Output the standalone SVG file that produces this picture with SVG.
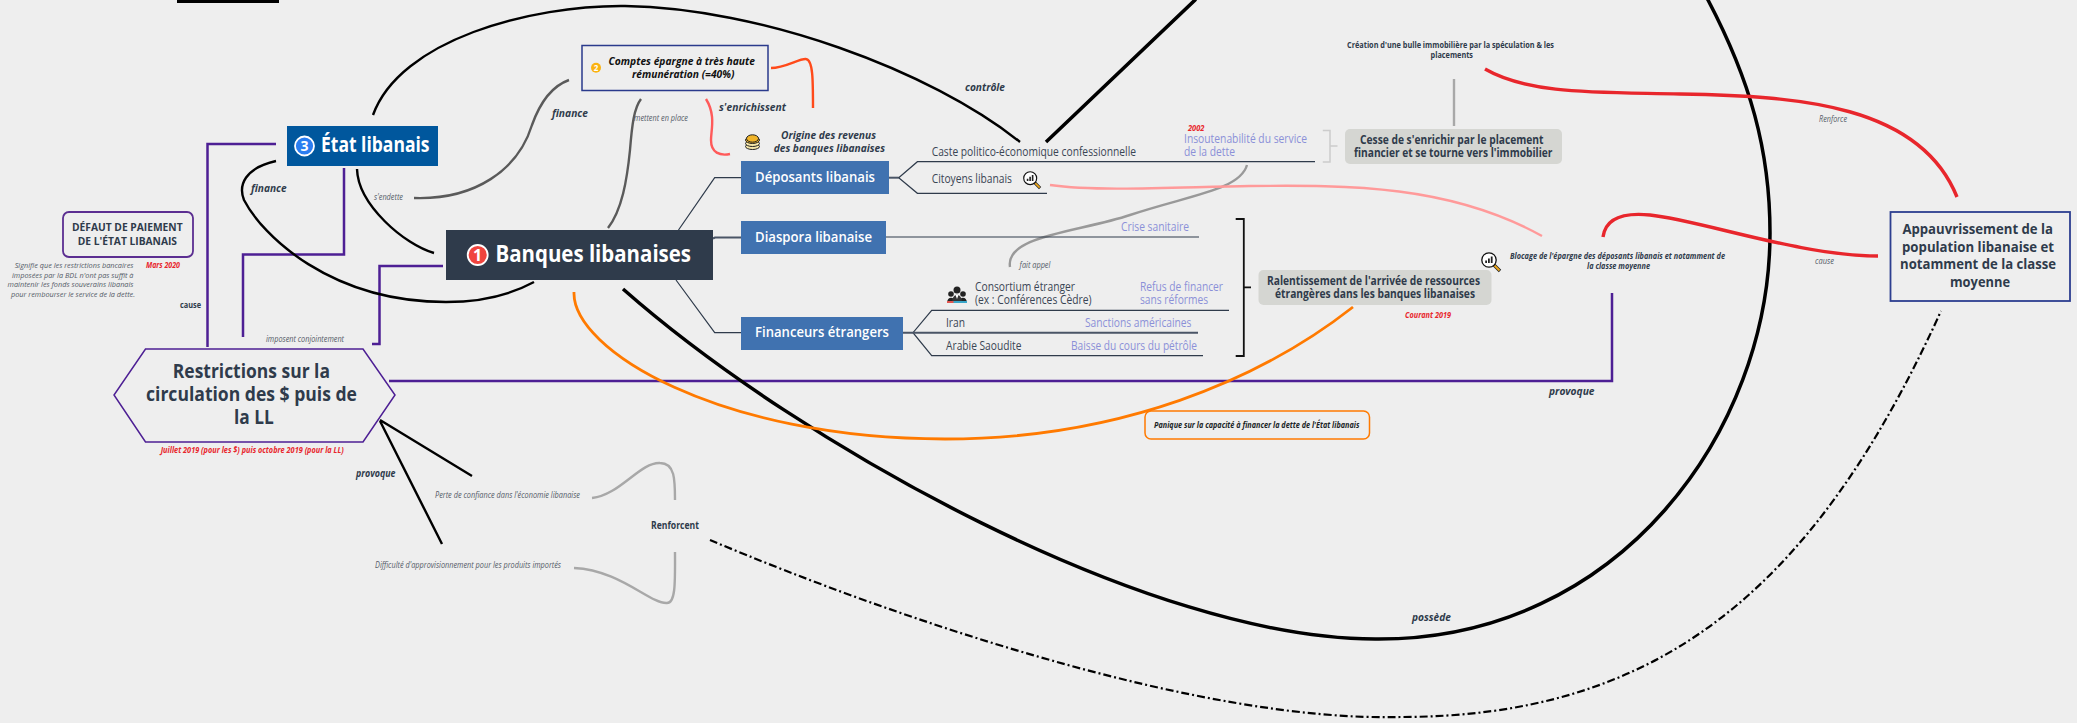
<svg xmlns="http://www.w3.org/2000/svg" width="2077" height="723" viewBox="0 0 2077 723">
<style>
text{font-family:"Open Sans","Noto Sans","Liberation Sans",sans-serif;fill:#2f3b4b}
.c{fill:none;stroke-linecap:butt}
.blk{stroke:#000;stroke-width:2.400}
.blkh{stroke:#000;stroke-width:3.500}
.pur{stroke:#4d1f94;stroke-width:2.500}
.gry{stroke:#a8a8a8;stroke-width:2.400}
.dgr{stroke:#5a5a5a;stroke-width:2.400}
.red{stroke:#e8262c;stroke-width:3.400}
.brn{stroke:#2f3b4b;stroke-width:1.200}
.brnb{stroke:#4a5566;stroke-width:2}
.box{fill:#4072b0}
.wt{fill:#fff;font-weight:600;font-size:15px}
.sub{font-size:12px;fill:#3a4554}
.blu{font-size:12px;fill:#8b90d8}
.ital{font-size:8.500px;font-style:italic;fill:#555c68}
.sig{font-size:7.500px;font-style:italic;fill:#555c68}
.bi{font-size:10.500px;font-style:italic;font-weight:700}
.redt{font-size:8.500px;font-style:italic;font-weight:700;fill:#e8262c}
.gbox{fill:#d5d6d2}
.gt{font-size:12px;font-weight:700}
.hx{font-size:19px;font-weight:700}
.ap{font-size:15px;font-weight:700}
</style>
<defs>
<g id="mag">
<path d="M13 13L19 19" stroke="#222" stroke-width="3.400"/>
<path d="M13.500 13.500L18.500 18.500" stroke="#f0a91c" stroke-width="1.800"/>
<circle cx="8" cy="8" r="7.200" fill="#fff" stroke="#111" stroke-width="1.300"/>
<path d="M4.200 11V8.500H6V11ZM7 11V6.500H8.800V11ZM9.800 11V4.500H11.600V11Z" fill="#222"/>
</g>
</defs>
<rect width="2077" height="723" fill="#eeeeee"/>
<rect id="top-bar" x="177" y="0" width="102" height="3" fill="#000"/>

<g id="connectors">
<path class="c blk" d="M373 115C400 40 530 5 625 6C760 8 930 70 1020 142"/>
<path class="c pur" d="M276 144H207.500V347"/>
<path class="c pur" d="M344 168V254.500H243V337"/>
<path class="c pur" d="M443 266H379.500V344H372"/>
<path class="c pur" d="M389 381H1612V293"/>
<path class="c blk" d="M276 161C245 168 238 185 244 200C262 235 330 302 446 302C480 302 510 295 534 282"/>
<path class="c blk" d="M357 169C358 205 405 245 434 253"/>
<path class="c dgr" d="M414 198C475 200 518 170 532 125C542 97 555 85 569 80"/>
<path class="c dgr" d="M608 228C622 210 627 180 630 150C632 125 634 108 641 99"/>
<path class="c blkh" d="M623 289C800 445 1150 640 1377 639C1620 640 1770 430 1770 233C1770 150 1750 80 1708 0C1650 -120 1300 -150 1195 0L1046 142"/>
<path class="c" stroke="#ff7a00" stroke-width="2.800" d="M574 292C572 350 720 439 945 439C1120 439 1260 380 1353 307"/>
<path class="c" stroke="#000" stroke-width="2.200" stroke-dasharray="8 3 2 3" d="M710 540C900 620 1200 722 1400 717C1650 717 1810 600 1941 311"/>
<path class="c blk" d="M380 420L472 476M380 421L442 544"/>
<path class="c gry" d="M592 498C620 495 640 462 660 463C675 463 675 480 675 500"/>
<path class="c gry" d="M574 568C620 570 650 604 667 603C676 603 675 580 675 552"/>
<path class="c" stroke="#999" stroke-width="2.400" d="M1247 165C1240 190 1190 195 1130 215C1080 232 1005 235 1010 267"/>
<path class="c gry" d="M1454 79V126"/>
<path class="c red" d="M1485 69C1530 95 1600 92 1680 94C1800 96 1920 105 1957 197"/>
<path class="c red" d="M1603 237C1606 215 1630 213 1650 215C1700 220 1800 256 1878 256"/>
<path class="c" stroke="#ff9a9a" stroke-width="2.400" d="M1050 185C1100 192 1180 187 1250 186C1350 185 1450 185 1542 236"/>
<path class="c" stroke="#ff4a1a" stroke-width="2.400" d="M771 68C785 68 800 58 806 59C813 60 813 80 813 108"/>
<path class="c" stroke="#ff5a5a" stroke-width="2.400" d="M706 99C716 115 711 130 711 140C711 153 720 156 730 154"/>
<path class="c brn" d="M678.500 230L714.700 177.700H741"/>
<path class="c brnb" d="M713 238.500L715 237.500H741"/>
<path class="c brn" d="M676 280L714.700 332.700H741"/>
<path class="c brnb" d="M889 177.700H898.700"/>
<path class="c brn" d="M1315 161.700H917.400L898.700 177.700L917.400 193.300H1047"/>
<path class="c brn" d="M886 237H1199"/>
<path class="c brn" d="M1229 310.300H931.700L913 332.700L931.700 355.700H1203"/>
<path class="c brnb" d="M903 332.700H1198"/>
<path class="c" stroke="#ccc" stroke-width="1.500" d="M1322.800 130.500H1330V162H1322.800M1330 146H1337.500"/>
<path class="c" stroke="#111" stroke-width="1.800" d="M1235.700 219H1243.800V356H1235.700M1243.800 287.300H1251"/>
</g>

<g id="etat"><rect x="287" y="126" width="151" height="40" fill="#00579d"/>
<circle cx="304.500" cy="146" r="9.500" fill="#2b7df0" stroke="#fff" stroke-width="1.800"/>
<text x="304.500" y="151" text-anchor="middle" font-size="14" font-weight="700" style="fill:#fff">3</text>
<text x="321" y="152" font-size="21" font-weight="700" textLength="108.500" lengthAdjust="spacingAndGlyphs" style="fill:#fff">État libanais</text></g>

<g id="banques"><rect x="446" y="230" width="267" height="50" fill="#2f3b4b"/>
<circle cx="477.700" cy="255" r="10" fill="#f0443e" stroke="#fff" stroke-width="1.800"/>
<text x="477.700" y="261" text-anchor="middle" font-size="16" font-weight="700" style="fill:#fff">1</text>
<text x="495.500" y="261.500" font-size="22.500" font-weight="700" textLength="195.500" lengthAdjust="spacingAndGlyphs" style="fill:#fff">Banques libanaises</text></g>

<g id="comptes"><rect x="582" y="45.500" width="186" height="45" fill="none" stroke="#2a3a8c" stroke-width="1.500"/>
<circle cx="596" cy="67.700" r="5" fill="#fbb310"/>
<text x="596" y="70.700" text-anchor="middle" font-size="8" font-weight="700" style="fill:#fff">2</text>
<text x="608.500" y="64.700" class="bi" style="fill:#111" textLength="146.500" lengthAdjust="spacingAndGlyphs">Comptes épargne à très haute</text>
<text x="632" y="77.700" class="bi" style="fill:#111" textLength="102.400" lengthAdjust="spacingAndGlyphs">rémunération (=40%)</text></g>

<g id="origine">
<g transform="translate(745 134)">
<ellipse cx="7.500" cy="12.500" rx="7" ry="3" fill="#f5e6a8" stroke="#222"/>
<ellipse cx="7.500" cy="9.500" rx="7" ry="3" fill="#f5e6a8" stroke="#222"/>
<ellipse cx="7.500" cy="6" rx="7" ry="3.500" fill="#f0b429" stroke="#222"/>
<ellipse cx="7.500" cy="4.500" rx="6" ry="3.700" fill="#f0b429" stroke="#222"/>
</g>
<text x="781" y="139" class="bi" textLength="95" lengthAdjust="spacingAndGlyphs">Origine des revenus</text>
<text x="773.700" y="152" class="bi" textLength="111.300" lengthAdjust="spacingAndGlyphs">des banques libanaises</text></g>

<g id="deposants"><rect class="box" x="741" y="161" width="148" height="33"/>
<text x="755" y="181.700" class="wt" textLength="120" lengthAdjust="spacingAndGlyphs">Déposants libanais</text>
<text x="931.700" y="156" class="sub" textLength="204.300" lengthAdjust="spacingAndGlyphs">Caste politico-économique confessionnelle</text>
<text x="931.700" y="183" class="sub" textLength="80.300" lengthAdjust="spacingAndGlyphs">Citoyens libanais</text>
<use href="#mag" transform="translate(1023 171) scale(.9)"/>
<text x="1188" y="131" class="redt" textLength="16.500" lengthAdjust="spacingAndGlyphs">2002</text>
<text x="1184" y="143" class="blu" textLength="123" lengthAdjust="spacingAndGlyphs">Insoutenabilité du service</text>
<text x="1184" y="156" class="blu" textLength="51" lengthAdjust="spacingAndGlyphs">de la dette</text></g>

<g id="diaspora"><rect class="box" x="741" y="221" width="145" height="33"/>
<text x="755" y="241.700" class="wt" textLength="117" lengthAdjust="spacingAndGlyphs">Diaspora libanaise</text>
<text x="1121" y="230.700" class="blu" textLength="68" lengthAdjust="spacingAndGlyphs">Crise sanitaire</text></g>

<g id="financeurs"><rect class="box" x="741" y="317" width="162" height="33"/>
<text x="755" y="336.700" class="wt" textLength="134" lengthAdjust="spacingAndGlyphs">Financeurs étrangers</text>
<g transform="translate(947 286)">
<circle cx="4" cy="8" r="2.800" fill="#222"/><circle cx="16" cy="8" r="2.800" fill="#222"/><circle cx="10" cy="4" r="3.500" fill="#222"/>
<path d="M0 17C0 10 8 10 8 17Z" fill="#222"/><path d="M12 17C12 10 20 10 20 17Z" fill="#222"/><path d="M5 17C5 6 15 6 15 17Z" fill="#333"/>
<path d="M8.500 9L10 13L11.500 9Z" fill="#fff"/>
<rect x="0" y="15" width="7" height="2" fill="#e2554f"/><rect x="6.500" y="15" width="7" height="2" fill="#3aa6c9"/><rect x="13" y="15" width="7" height="2" fill="#3aa6c9"/>
</g>
<text x="975" y="290.700" class="sub" textLength="100" lengthAdjust="spacingAndGlyphs">Consortium étranger</text>
<text x="975" y="303.700" class="sub" textLength="116.500" lengthAdjust="spacingAndGlyphs">(ex : Conférences Cèdre)</text>
<text x="1140" y="290.700" class="blu" textLength="83" lengthAdjust="spacingAndGlyphs">Refus de financer</text>
<text x="1140" y="303.700" class="blu" textLength="68" lengthAdjust="spacingAndGlyphs">sans réformes</text>
<text x="946" y="326.700" class="sub" textLength="19" lengthAdjust="spacingAndGlyphs">Iran</text>
<text x="1085" y="326.700" class="blu" textLength="106.500" lengthAdjust="spacingAndGlyphs">Sanctions américaines</text>
<text x="946" y="349.700" class="sub" textLength="75.400" lengthAdjust="spacingAndGlyphs">Arabie Saoudite</text>
<text x="1071" y="349.700" class="blu" textLength="126" lengthAdjust="spacingAndGlyphs">Baisse du cours du pétrôle</text></g>

<g id="cesse"><rect class="gbox" x="1345" y="129" width="217" height="35" rx="5"/>
<text x="1360" y="144" class="gt" textLength="183.500" lengthAdjust="spacingAndGlyphs">Cesse de s'enrichir par le placement</text>
<text x="1354" y="157" class="gt" textLength="198.400" lengthAdjust="spacingAndGlyphs">financier et se tourne vers l'immobilier</text></g>

<g id="creation">
<text x="1347" y="48" font-size="8.500" font-weight="700" textLength="207" lengthAdjust="spacingAndGlyphs">Création d'une bulle immobilière par la spéculation &amp; les</text>
<text x="1430.600" y="58" font-size="8.500" font-weight="700" textLength="42.400" lengthAdjust="spacingAndGlyphs">placements</text></g>

<g id="ralentissement"><rect class="gbox" x="1258.500" y="270" width="233" height="35" rx="5"/>
<text x="1267" y="285" class="gt" textLength="213" lengthAdjust="spacingAndGlyphs">Ralentissement de l'arrivée de ressources</text>
<text x="1275" y="298" class="gt" textLength="200" lengthAdjust="spacingAndGlyphs">étrangères dans les banques libanaises</text>
<text x="1405" y="317.700" class="redt" textLength="46" lengthAdjust="spacingAndGlyphs">Courant 2019</text></g>

<g id="blocage">
<use href="#mag" transform="translate(1481 252)"/>
<text x="1510" y="258.700" font-size="8.500" font-style="italic" font-weight="700" textLength="215" lengthAdjust="spacingAndGlyphs">Blocage de l'épargne des déposants libanais et notamment de</text>
<text x="1587" y="268.700" font-size="8.500" font-style="italic" font-weight="700" textLength="63" lengthAdjust="spacingAndGlyphs">la classe moyenne</text></g>

<g id="appauvrissement"><rect x="1890.500" y="212" width="179.500" height="89" fill="none" stroke="#2c3e8f" stroke-width="1.800"/>
<text x="1902.400" y="234" class="ap" textLength="150.600" lengthAdjust="spacingAndGlyphs">Appauvrissement de la</text>
<text x="1902" y="252" class="ap" textLength="152" lengthAdjust="spacingAndGlyphs">population libanaise et</text>
<text x="1900" y="269" class="ap" textLength="156" lengthAdjust="spacingAndGlyphs">notamment de la classe</text>
<text x="1950" y="287" class="ap" textLength="60" lengthAdjust="spacingAndGlyphs">moyenne</text></g>

<g id="defaut"><rect x="63" y="212" width="130" height="45" rx="6" fill="none" stroke="#5b2e91" stroke-width="1.800"/>
<text x="72" y="231" font-size="10.500" font-weight="700" textLength="110.600" lengthAdjust="spacingAndGlyphs">DÉFAUT DE PAIEMENT</text>
<text x="77.700" y="245" font-size="10.500" font-weight="700" textLength="99.300" lengthAdjust="spacingAndGlyphs">DE L'ÉTAT LIBANAIS</text>
<text x="14.700" y="268" class="sig" textLength="118.800" lengthAdjust="spacingAndGlyphs">Signifie que les restrictions bancaires</text>
<text x="12" y="278" class="sig" textLength="121.500" lengthAdjust="spacingAndGlyphs">imposées par la BDL n'ont pas suffit à</text>
<text x="7.600" y="287" class="sig" textLength="125.900" lengthAdjust="spacingAndGlyphs">maintenir les fonds souverains libanais</text>
<text x="11" y="297" class="sig" textLength="124" lengthAdjust="spacingAndGlyphs">pour rembourser le service de la dette.</text>
<text x="146" y="268" font-size="8" font-style="italic" font-weight="700" style="fill:#e8262c" textLength="34" lengthAdjust="spacingAndGlyphs">Mars 2020</text></g>

<g id="restrictions"><path d="M145.500 349H363L395 395L363 442H145.500L114 395Z" fill="none" stroke="#4d1f94" stroke-width="1.500"/>
<text x="172.800" y="377.700" class="hx" textLength="157.200" lengthAdjust="spacingAndGlyphs">Restrictions sur la</text>
<text x="146" y="401" class="hx" textLength="211" lengthAdjust="spacingAndGlyphs">circulation des $ puis de</text>
<text x="234" y="423.700" class="hx" textLength="39.700" lengthAdjust="spacingAndGlyphs">la LL</text>
<text x="160.700" y="453" class="redt" textLength="183" lengthAdjust="spacingAndGlyphs">Juillet 2019 (pour les $) puis octobre 2019 (pour la LL)</text></g>

<g id="panique"><rect x="1145" y="411" width="224.500" height="28" rx="6" fill="none" stroke="#ff7a00" stroke-width="1.500"/>
<text x="1154" y="427.700" font-size="8.500" font-style="italic" font-weight="700" style="fill:#1a1f26" textLength="205.400" lengthAdjust="spacingAndGlyphs">Panique sur la capacité à financer la dette de l'État libanais</text></g>

<g id="perte"><text x="435" y="498" class="ital" textLength="145" lengthAdjust="spacingAndGlyphs">Perte de confiance dans l'économie libanaise</text></g>
<g id="difficulte"><text x="375" y="568" class="ital" textLength="186" lengthAdjust="spacingAndGlyphs">Difficulté d'approvisionnement pour les produits importés</text></g>
<g id="renforcent"><text x="651" y="528.700" font-size="10" font-weight="700" textLength="48" lengthAdjust="spacingAndGlyphs">Renforcent</text></g>

<g id="labels">
<text x="180" y="308" font-size="8.500" font-weight="700" textLength="21" lengthAdjust="spacingAndGlyphs">cause</text>
<text x="266" y="342" class="ital" textLength="78" lengthAdjust="spacingAndGlyphs">imposent conjointement</text>
<text x="251" y="192" class="bi" textLength="35.600" lengthAdjust="spacingAndGlyphs">finance</text>
<text x="552" y="117" class="bi" textLength="36" lengthAdjust="spacingAndGlyphs">finance</text>
<text x="374" y="200" class="ital" textLength="29" lengthAdjust="spacingAndGlyphs">s'endette</text>
<text x="634" y="121" class="ital" textLength="54" lengthAdjust="spacingAndGlyphs">mettent en place</text>
<text x="719" y="111" class="bi" textLength="67" lengthAdjust="spacingAndGlyphs">s'enrichissent</text>
<text x="965" y="91" class="bi" textLength="40" lengthAdjust="spacingAndGlyphs">contrôle</text>
<text x="1019.600" y="268" class="ital" textLength="30.800" lengthAdjust="spacingAndGlyphs">fait appel</text>
<text x="1819" y="122" class="ital" textLength="28" lengthAdjust="spacingAndGlyphs">Renforce</text>
<text x="1815" y="264" class="ital" textLength="19" lengthAdjust="spacingAndGlyphs">cause</text>
<text x="1549" y="395" class="bi" textLength="45.500" lengthAdjust="spacingAndGlyphs">provoque</text>
<text x="1412" y="621" class="bi" textLength="39" lengthAdjust="spacingAndGlyphs">possède</text>
<text x="356" y="477" class="bi" textLength="39.500" lengthAdjust="spacingAndGlyphs">provoque</text>
</g>
</svg>
